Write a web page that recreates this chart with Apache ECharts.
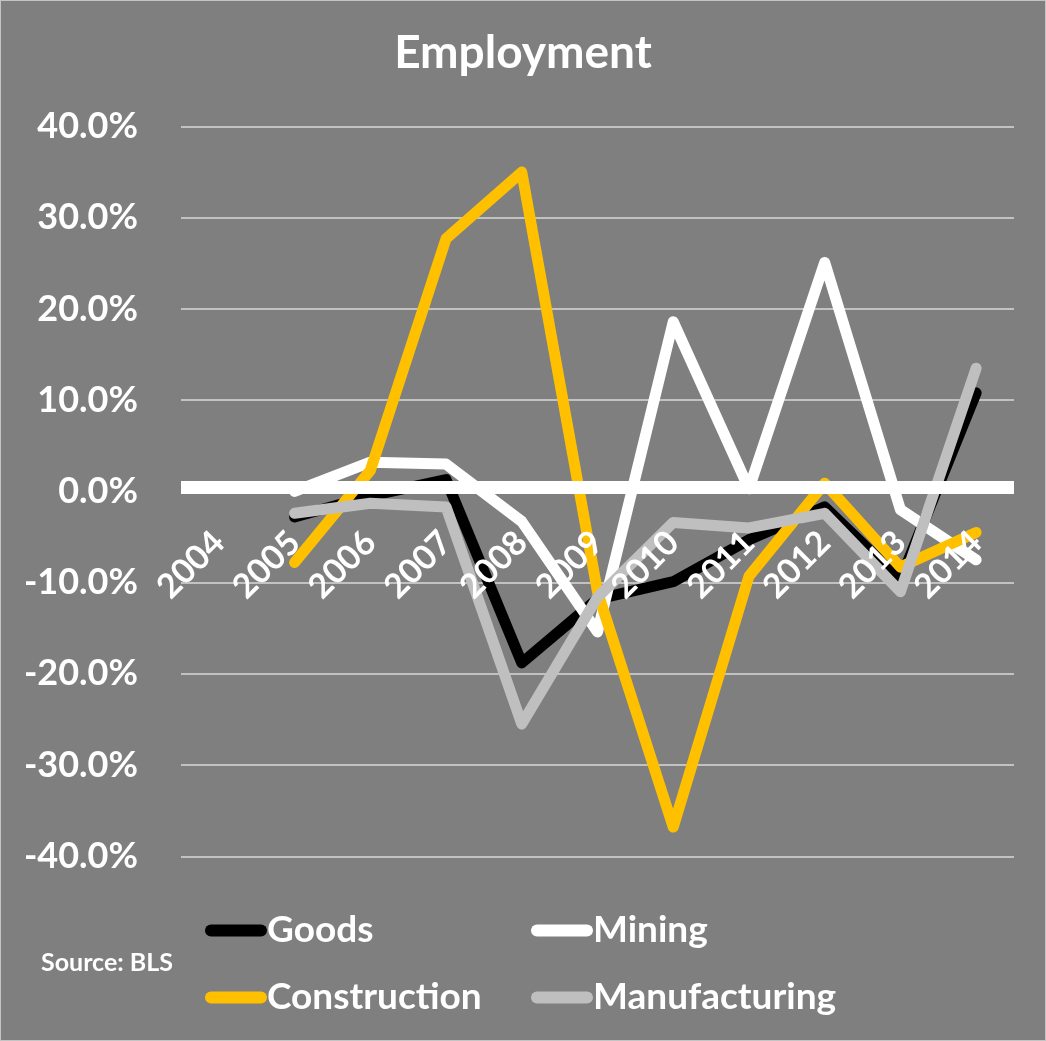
<!DOCTYPE html>
<html>
<head>
<meta charset="utf-8">
<script src="https://cdn.jsdelivr.net/npm/echarts@6/dist/echarts.min.js"></script>
<style>
  html, body { margin: 0; padding: 0; background: #7f7f7f; }
  #chart { width: 1046px; height: 1041px; box-sizing: border-box; border: 1px solid #c4c4c4; }
</style>
</head>
<body>
<div id="chart"></div>
<script>
// 年份
const years = ["2004", "2005", "2006", "2007", "2008", "2009", "2010", "2011", "2012", "2013", "2014"];
// 各行业就业变化 (%)
const goods = [null, -2.8, -0.5, 1.3, -18.8, -11.8, -9.9, -5.3, -1.7, -9.7, 10.8];
const mining = [null, 0.0, 3.2, 3.0, -3.3, -15.4, 18.6, 0.3, 25.1, -2.0, -7.5];
const construction = [null, -7.8, 2.3, 27.7, 35.0, -11.0, -36.8, -9.3, 0.9, -8.3, -4.5];
const manufacturing = [null, -2.4, -1.3, -1.7, -25.5, -11.6, -3.4, -4.0, -2.4, -11.0, 13.5];
const yTicks = { min: -40, max: 40, interval: 10 };

const fontFamily = "Lato, 'Open Sans', sans-serif";

const gridTop = 125.5;
const gridBottom = 183.7;
const chartH = 1041;
// 横轴画在 0 附近（略高一点，跟原图一样）
const zeroY = 488;

const init = () => {
  const chart = echarts.init(document.getElementById("chart"));

  const makeLine = (name, data, color) => ({
    name: name,
    type: "line",
    data: data,
    symbol: "none",
    lineStyle: { color: color, width: 11, cap: "round", join: "round" },
    itemStyle: { color: color },
    z: 2,
  });

  // 图例的圆头线段
  const legendIcon = "path://M6,0 H56 A6,6 0 0 1 56,12 H6 A6,6 0 0 1 6,0 Z";
  const legendText = { color: "#fff", fontSize: 37, fontWeight: "bold", fontFamily: fontFamily, padding: [0, 0, 0, -5] };

  const options = {
    backgroundColor: "#7f7f7f",
    animation: false,
    title: {
      text: "Employment",
      left: "center",
      top: 24,
      textStyle: { color: "#fff", fontSize: 46, fontWeight: "bold", fontFamily: fontFamily },
    },
    grid: { left: 180, right: 31, top: gridTop, bottom: gridBottom },
    legend: [
      {
        data: ["Goods", "Construction"],
        orient: "vertical",
        left: 199,
        top: 906,
        itemGap: 30,
        itemWidth: 62,
        itemHeight: 12,
        icon: legendIcon,
        textStyle: legendText,
      },
      {
        data: ["Mining", "Manufacturing"],
        orient: "vertical",
        left: 525,
        top: 906,
        itemGap: 30,
        itemWidth: 62,
        itemHeight: 12,
        icon: legendIcon,
        textStyle: legendText,
      },
    ],
    graphic: [
      {
        type: "text",
        left: 40,
        top: 949,
        style: { text: "Source: BLS", fill: "#fff", fontSize: 25, fontWeight: "bold", fontFamily: fontFamily },
      },
    ],
    xAxis: {
      type: "category",
      data: years,
      boundaryGap: true,
      z: 10,
      offset: -(chartH - gridBottom - zeroY),
      axisLine: { onZero: false, lineStyle: { color: "#fff", width: 13, cap: "butt" } },
      axisTick: { show: false },
      axisLabel: {
        rotate: 45,
        margin: 50,
        color: "#fff",
        fontSize: 34,
        fontWeight: "bold",
        fontFamily: fontFamily,
        interval: 0,
      },
    },
    yAxis: {
      type: "value",
      min: yTicks.min,
      max: yTicks.max,
      interval: yTicks.interval,
      axisLine: { show: false },
      axisTick: { show: false },
      axisLabel: {
        margin: 43,
        color: "#fff",
        fontSize: 36,
        fontWeight: "bold",
        fontFamily: fontFamily,
        formatter: (v) => v.toFixed(1) + "%",
      },
      splitLine: { lineStyle: { color: "#d9d9d9", width: 1.5 } },
    },
    series: [
      makeLine("Goods", goods, "#000000"),
      makeLine("Mining", mining, "#ffffff"),
      makeLine("Construction", construction, "#ffc000"),
      makeLine("Manufacturing", manufacturing, "#bfbfbf"),
    ],
  };

  chart.setOption(options);

  window.addEventListener("resize", () => {
    chart.resize();
  });
};

init();
</script>
</body>
</html>
